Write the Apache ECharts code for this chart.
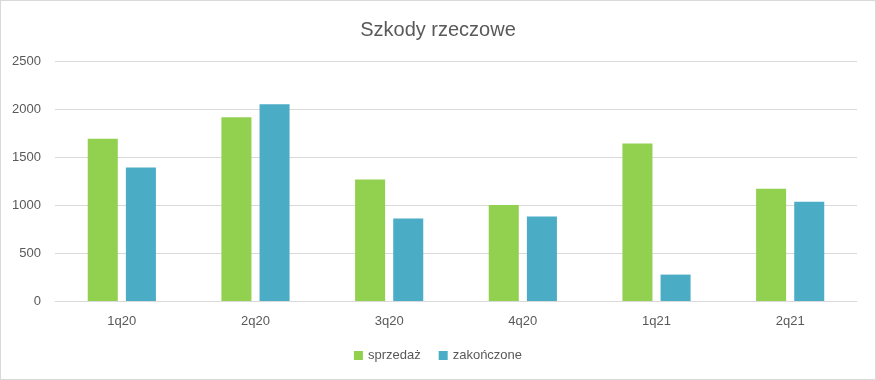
<!DOCTYPE html>
<html><head><meta charset="utf-8">
<script src="https://cdn.jsdelivr.net/npm/echarts@6/dist/echarts.min.js"></script>
<style>html,body{margin:0;padding:0;background:#fff}#c{width:876px;height:380px;box-sizing:border-box;border:1px solid #d9d9d9}</style>
</head><body><div id="c"></div>
<script>
const categories = ['1q20','2q20','3q20','4q20','1q21','2q21'];
const sprzedaz = [1690, 1915, 1265, 1000, 1640, 1170];
const zakonczone = [1390, 2050, 860, 880, 275, 1035];
const seriesNames = ['sprzedaż','zakończone'];
const chart = echarts.init(document.getElementById('c'));
const font = 'Liberation Sans, Arial, sans-serif';
chart.setOption({
  animation:false,
  title:{text:'Szkody rzeczowe',left:'center',top:14,textStyle:{fontFamily:font,fontSize:20,fontWeight:'normal',color:'#595959'}},
  legend:{bottom:12,left:'center',itemWidth:9,itemHeight:9,itemGap:18,icon:'rect',textStyle:{fontFamily:font,fontSize:13,color:'#595959'},data:seriesNames},
  grid:{left:54,right:18,top:60,bottom:78,containLabel:false},
  xAxis:{type:'category',data:categories,axisLine:{lineStyle:{color:'#d9d9d9'}},axisTick:{show:false},axisLabel:{fontFamily:font,fontSize:13,color:'#595959',margin:14}},
  yAxis:{type:'value',min:0,max:2500,interval:500,axisLine:{show:false},axisTick:{show:false},splitLine:{lineStyle:{color:'#d9d9d9'}},axisLabel:{fontFamily:font,fontSize:13,color:'#595959',margin:14,formatter:v=>String(v)}},
  series:[
    {name:seriesNames[0],type:'bar',data:sprzedaz,itemStyle:{color:'#92D050'},barGap:'27%',barCategoryGap:'49%'},
    {name:seriesNames[1],type:'bar',data:zakonczone,itemStyle:{color:'#4BACC6'}}
  ]
});
</script></body></html>
